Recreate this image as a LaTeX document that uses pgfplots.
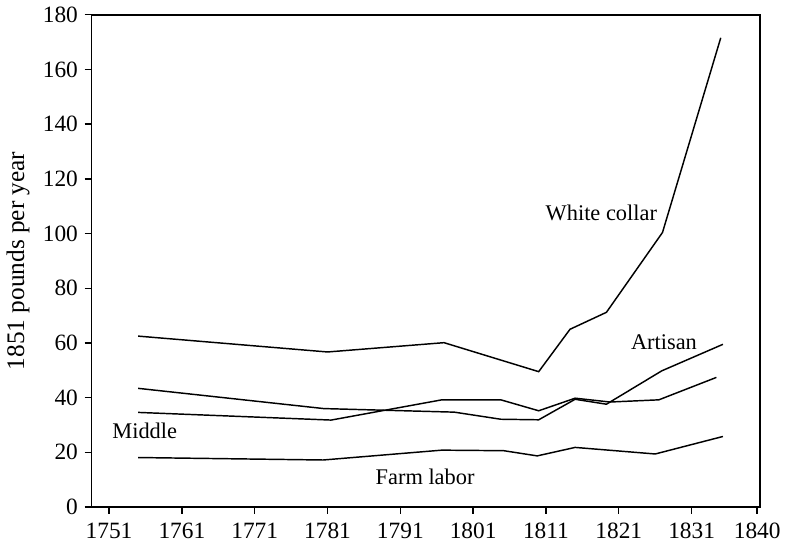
\documentclass[border=0pt]{standalone}
\usepackage{fontspec}
\setmainfont{Liberation Serif}
\usepackage{pgfplots}
\pgfplotsset{compat=1.18}
\begin{document}
\begin{tikzpicture}
\begin{axis}[
  scale only axis,
  width=343.6pt, height=253pt,
  xmin=1748.6, xmax=1840.4, ymin=0, ymax=180,
  xtick={1751,1761,1771,1781,1791,1801,1811,1821,1831,1840},
  ytick={0,20,40,60,80,100,120,140,160,180},
  tick align=outside, tick pos=left,
  major tick length=3.5pt,
  /pgf/number format/assume math mode=true,
  /pgf/number format/set thousands separator={},
  ticklabel style={font=\fontsize{12}{13}\selectfont},
  xticklabel style={yshift=-1pt},
  ylabel={1851 pounds per year},
  ylabel style={font=\fontsize{13}{14}\selectfont},
  axis line style={line width=0.8pt},
  every tick/.style={black, line width=0.7pt},
  every axis plot post/.append style={black, line width=0.75pt, mark=none},
  clip=false,
]
% White collar
\addplot coordinates {(1755,62.5) (1781,56.7) (1797,60.1) (1810,49.5) (1814.3,65.0) (1819.3,71.2) (1827,100.4) (1835,171.6)};
% Artisan
\addplot coordinates {(1755,43.4) (1780.5,36.0) (1798.4,34.7) (1804.8,32.1) (1810,31.9) (1815,39.4) (1819.3,37.6) (1826.9,49.8) (1835.3,59.5)};
% Middle
\addplot coordinates {(1755,34.6) (1781.5,31.8) (1796.7,39.2) (1804.8,39.2) (1810,35.2) (1815,39.8) (1819.8,38.4) (1826.5,39.2) (1834.4,47.4)};
% Farm labor
\addplot coordinates {(1755,18.1) (1780.4,17.2) (1796.7,20.8) (1805.2,20.6) (1809.8,18.7) (1815,21.8) (1826,19.4) (1835.3,25.8)};
\node[font=\fontsize{11.5}{12}\selectfont] at (axis cs:1818.6,107.7) {White collar};
\node[font=\fontsize{11.5}{12}\selectfont] at (axis cs:1827.2,60.4) {Artisan};
\node[font=\fontsize{11.5}{12}\selectfont] at (axis cs:1755.9,28.0) {Middle};
\node[font=\fontsize{11.5}{12}\selectfont] at (axis cs:1794.4,11.0) {Farm labor};
\end{axis}
\path ([shift={(-43.5pt,-19.3pt)}]current axis.south west) rectangle ([shift={(12.7pt,7.6pt)}]current axis.north east);
\end{tikzpicture}
\end{document}
